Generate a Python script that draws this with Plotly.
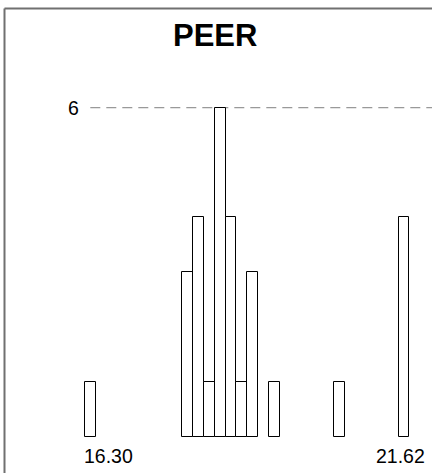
import plotly.graph_objects as go

# Data
x_min = 16.30
x_max = 21.62
n_bins_span = 29
bin_width = (x_max - x_min) / n_bins_span
bin_index = [0, 9, 10, 11, 12, 13, 14, 15, 17, 23, 29]
counts = [1, 3, 4, 1, 6, 4, 1, 3, 1, 1, 4]
ref_level = 6
title_text = "PEER"
min_label = "16.30"
max_label = "21.62"

bin_centers = [x_min + i * bin_width for i in bin_index]

W, H = 432, 473
FONT = "Arial, Liberation Sans, sans-serif"

fig = go.Figure()
fig.add_trace(go.Bar(
    x=bin_centers, y=counts, width=bin_width,
    marker=dict(color="white", line=dict(color="black", width=1)),
    showlegend=False, hoverinfo="skip",
))

# axis mapping: px = 90.3 + (v - 16.30)*58.97 ; baseline at 437px, 54.9 px/count
sx = 58.97
x0 = x_min - 90.3 / sx
x1 = x_min + (W - 90.3) / sx
sy = 54.9
y1 = 437 / sy
y0 = -(H - 437) / sy

fig.update_layout(
    width=W, height=H,
    margin=dict(l=0, r=0, t=0, b=0),
    paper_bgcolor="white", plot_bgcolor="white",
    xaxis=dict(range=[x0, x1], showgrid=False, zeroline=False, showticklabels=False, showline=False, fixedrange=True),
    yaxis=dict(range=[y0, y1], showgrid=False, zeroline=False, showticklabels=False, showline=False, fixedrange=True),
    bargap=0,
    shapes=[
        dict(type="line", xref="x", yref="y", x0=x_min, x1=x1, y0=ref_level, y1=ref_level,
             line=dict(color="#999999", width=1.2, dash="10px,6px"), layer="below"),
        dict(type="line", xref="paper", yref="paper", x0=4.5 / W, x1=4.5 / W, y0=0, y1=1 - 8.5 / H,
             line=dict(color="#707070", width=2)),
        dict(type="line", xref="paper", yref="paper", x0=4.5 / W, x1=1, y0=1 - 8.5 / H, y1=1 - 8.5 / H,
             line=dict(color="#707070", width=2)),
    ],
    annotations=[
        dict(text="<b>%s</b>" % title_text, xref="paper", yref="paper", x=214.5 / W, y=1 - 36 / H,
             xanchor="center", yanchor="middle", showarrow=False,
             font=dict(family=FONT, size=31, color="black")),
        dict(text=str(ref_level), xref="paper", yref="y", x=80 / W, y=ref_level,
             xanchor="right", yanchor="middle", showarrow=False, borderpad=0,
             font=dict(family=FONT, size=19.5, color="black")),
        dict(text=min_label, xref="paper", yref="paper", x=83 / W, y=1 - 456 / H,
             xanchor="left", yanchor="middle", showarrow=False, borderpad=0,
             font=dict(family=FONT, size=19.5, color="black")),
        dict(text=max_label, xref="paper", yref="paper", x=426 / W, y=1 - 456 / H,
             xanchor="right", yanchor="middle", showarrow=False, borderpad=0,
             font=dict(family=FONT, size=19.5, color="black")),
    ],
)

fig.write_html(
    "out.html",
    config={"displayModeBar": False},
    post_script="document.body.style.margin='0';document.body.style.overflow='hidden';",
)
